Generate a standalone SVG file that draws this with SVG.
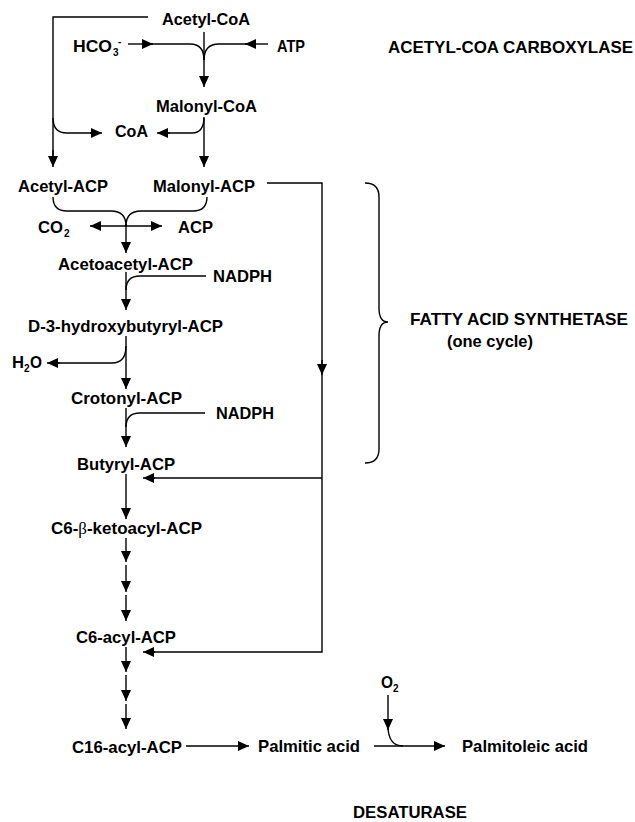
<svg xmlns="http://www.w3.org/2000/svg" width="635" height="822" viewBox="0 0 635 822">
<style>
text{font-family:"Liberation Sans",Arial,sans-serif;font-weight:bold;font-size:16.5px;fill:#000}
.sub{font-size:10px}
.ln{fill:none;stroke:#000;stroke-width:1.4}
.ar{fill:none;stroke:#000;stroke-width:1.4;marker-end:url(#ah)}
</style>
<defs>
<marker id="ah" markerUnits="userSpaceOnUse" markerWidth="11" markerHeight="10" refX="11" refY="5" orient="auto" viewBox="0 0 11 10">
<path d="M0,0 L11,5 L0,10 z" fill="#000"/>
</marker>
</defs>
<rect width="635" height="822" fill="#fff"/>
<g id="connectors">
<path class="ln" d="M148,17 L53,17 L53,157"/>
<path class="ar" d="M53,150 L53,167"/>
<path class="ln" d="M53,118 Q53,133 67,133 L95,133"/>
<path class="ar" d="M90,133 L102,133"/>
<path class="ar" d="M204,32 L204,87"/>
<path class="ar" d="M128,44 L153,44"/>
<path class="ln" d="M150,44 L190,44 Q204,44 204,60"/>
<path class="ar" d="M268,44 L245,44"/>
<path class="ln" d="M248,44 L219,44 Q204,44 204,60"/>
<path class="ar" d="M204,118 L204,167"/>
<path class="ln" d="M204,117 Q204,133 192,133 L165,133"/>
<path class="ar" d="M170,133 L157,133"/>
<path class="ln" d="M267,183 L322,183 L322,652 L150,652"/>
<path class="ar" d="M322,360 L322,375"/>
<path class="ln" d="M322,478 L150,478"/>
<path class="ar" d="M155,478 L143,478"/>
<path class="ar" d="M155,652 L143,652"/>
<path class="ln" d="M53,197 Q53,211 67,211 L111,211 Q126,211 126,226"/>
<path class="ln" d="M207,197 Q207,211 193,211 L141,211 Q126,211 126,226"/>
<path class="ar" d="M126,226 L90,226"/>
<path class="ar" d="M126,226 L162,226"/>
<path class="ar" d="M126,224 L126,253"/>
<path class="ln" d="M206,276 L140,276 Q126,276 126,290"/>
<path class="ar" d="M126,272 L126,310"/>
<path class="ln" d="M126,346 Q126,363 112,363 L55,363"/>
<path class="ar" d="M60,363 L47,363"/>
<path class="ar" d="M126,336 L126,389"/>
<path class="ln" d="M205,413 L140,413 Q126,413 126,427"/>
<path class="ar" d="M126,408 L126,447"/>
<path class="ar" d="M126,474 L126,519"/>
<path class="ar" d="M126,538 L126,562"/>
<path class="ar" d="M126,565 L126,592"/>
<path class="ar" d="M126,595 L126,621"/>
<path class="ar" d="M126,647 L126,672"/>
<path class="ar" d="M126,675 L126,701"/>
<path class="ar" d="M126,704 L126,729"/>
<path class="ar" d="M186,746 L249,746"/>
<path class="ar" d="M374,746 L445,746"/>
<path class="ar" d="M388,695 L388,730"/>
<path class="ln" d="M388,728 Q389,746 403,746"/>
<path class="ln" d="M365,183 Q379,183 379,197 L379,308 Q379,322 388,322 Q379,322 379,336 L379,449 Q379,463 365,463"/>
</g>
<g id="acetyl-coa"><text x="162" y="25" textLength="88" lengthAdjust="spacingAndGlyphs">Acetyl-CoA</text></g>
<g id="hco3"><text x="73" y="52" textLength="39" lengthAdjust="spacingAndGlyphs">HCO</text><text class="sub" x="113" y="56">3</text><text class="sub" x="118" y="45">-</text></g>
<g id="atp"><text x="277" y="52" textLength="28" lengthAdjust="spacingAndGlyphs">ATP</text></g>
<g id="acc-label"><text x="388" y="53" textLength="245" lengthAdjust="spacingAndGlyphs">ACETYL-COA CARBOXYLASE</text></g>
<g id="malonyl-coa"><text x="156" y="112" textLength="101" lengthAdjust="spacingAndGlyphs">Malonyl-CoA</text></g>
<g id="coa"><text x="115" y="137" textLength="33" lengthAdjust="spacingAndGlyphs">CoA</text></g>
<g id="acetyl-acp"><text x="18" y="192" textLength="90" lengthAdjust="spacingAndGlyphs">Acetyl-ACP</text></g>
<g id="malonyl-acp"><text x="153" y="192" textLength="102" lengthAdjust="spacingAndGlyphs">Malonyl-ACP</text></g>
<g id="co2"><text x="38" y="233" textLength="25" lengthAdjust="spacingAndGlyphs">CO</text><text class="sub" x="64" y="237">2</text></g>
<g id="acp"><text x="178" y="233" textLength="35" lengthAdjust="spacingAndGlyphs">ACP</text></g>
<g id="acetoacetyl-acp"><text x="58" y="270" textLength="135" lengthAdjust="spacingAndGlyphs">Acetoacetyl-ACP</text></g>
<g id="nadph1"><text x="213" y="282" textLength="59" lengthAdjust="spacingAndGlyphs">NADPH</text></g>
<g id="hydroxybutyryl-acp"><text x="28" y="332" textLength="195" lengthAdjust="spacingAndGlyphs">D-3-hydroxybutyryl-ACP</text></g>
<g id="h2o"><text x="12" y="368" textLength="12" lengthAdjust="spacingAndGlyphs">H</text><text class="sub" x="24" y="372">2</text><text x="30" y="368" textLength="12" lengthAdjust="spacingAndGlyphs">O</text></g>
<g id="crotonyl-acp"><text x="71" y="404" textLength="111" lengthAdjust="spacingAndGlyphs">Crotonyl-ACP</text></g>
<g id="nadph2"><text x="216" y="419" textLength="58" lengthAdjust="spacingAndGlyphs">NADPH</text></g>
<g id="butyryl-acp"><text x="77" y="470" textLength="98" lengthAdjust="spacingAndGlyphs">Butyryl-ACP</text></g>
<g id="c6-ketoacyl-acp"><text x="51" y="534" textLength="151" lengthAdjust="spacingAndGlyphs">C6-<tspan style="font-family:'Liberation Serif','Times New Roman',serif;font-weight:normal">β</tspan>-ketoacyl-ACP</text></g>
<g id="c6-acyl-acp"><text x="76" y="643" textLength="100" lengthAdjust="spacingAndGlyphs">C6-acyl-ACP</text></g>
<g id="c16-acyl-acp"><text x="72" y="753" textLength="110" lengthAdjust="spacingAndGlyphs">C16-acyl-ACP</text></g>
<g id="palmitic"><text x="258" y="752" textLength="102" lengthAdjust="spacingAndGlyphs">Palmitic acid</text></g>
<g id="o2"><text x="381" y="688" textLength="12" lengthAdjust="spacingAndGlyphs">O</text><text class="sub" x="393" y="692">2</text></g>
<g id="palmitoleic"><text x="462" y="752" textLength="126" lengthAdjust="spacingAndGlyphs">Palmitoleic acid</text></g>
<g id="desaturase"><text x="353" y="818" textLength="114" lengthAdjust="spacingAndGlyphs">DESATURASE</text></g>
<g id="fas-label"><text x="410" y="325" textLength="218" lengthAdjust="spacingAndGlyphs">FATTY ACID SYNTHETASE</text><text x="447" y="347" textLength="86" lengthAdjust="spacingAndGlyphs">(one cycle)</text></g>
</svg>
